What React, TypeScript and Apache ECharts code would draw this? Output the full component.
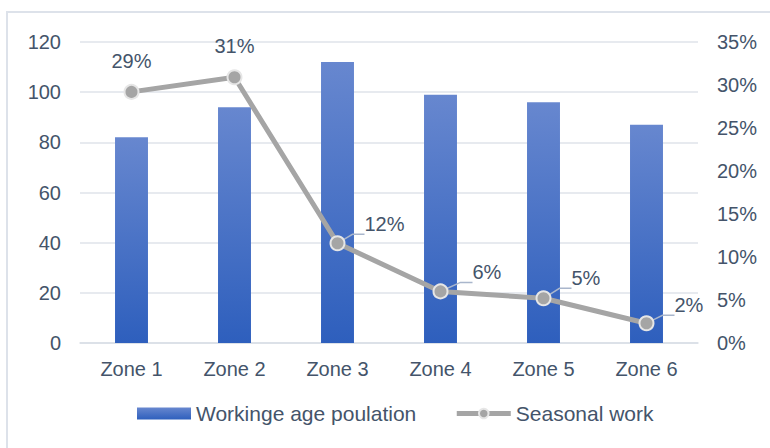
import React, { useEffect, useRef } from "react";
import * as echarts from "echarts";

const categories = ["Zone 1", "Zone 2", "Zone 3", "Zone 4", "Zone 5", "Zone 6"];
const populationValues = [82, 94, 112, 99, 96, 87];
const seasonalValues = [0.292, 0.309, 0.116, 0.06, 0.052, 0.023];
const seasonalLabels = ["29%", "31%", "12%", "6%", "5%", "2%"];
const leftTicks = { min: 0, max: 120, interval: 20 };
const rightTicks = { min: 0, max: 0.35, interval: 0.05 };
const seriesNames = ["Workinge age poulation", "Seasonal work"];

const TEXT = "#44546a";
const FONT = "'Liberation Sans', Arial, sans-serif";

export default function App() {
  const ref = useRef<HTMLDivElement>(null);
  useEffect(() => {
    if (!ref.current) return;
    const chart = echarts.init(ref.current, undefined, { renderer: "svg" });
    const labelOffsets: Record<number, [number, number]> = {
      2: [6, -19],
      3: [11, -19],
      4: [7, -20],
      5: [7, -18],
    };
    const lineData = seasonalValues.map((v, i) => {
      if (i < 2) {
        return {
          value: v,
          label: { show: true, position: "top", distance: 13, formatter: seasonalLabels[i] },
        };
      }
      return {
        value: v,
        label: {
          show: true,
          position: "right",
          offset: labelOffsets[i],
          padding: [0, 0, 0, 8],
          formatter: seasonalLabels[i],
        },
        labelLine: {
          show: true,
          length2: 12,
          smooth: false,
          lineStyle: { color: "#a9b6cc", width: 1.5 },
        },
      };
    });
    chart.setOption({
      animation: false,
      textStyle: { fontFamily: FONT },
      graphic: [
        {
          type: "rect",
          shape: { x: 7, y: 12, width: 800, height: 500 },
          style: { fill: "none", stroke: "#dde2ea", lineWidth: 2 },
          silent: true,
        },
      ],
      grid: { left: 80, right: 72, top: 42, bottom: 105, containLabel: false },
      legend: {
        left: 137,
        top: 403,
        padding: 0,
        itemWidth: 54,
        itemHeight: 12,
        itemGap: 38,
        lineStyle: { width: 5 },
        textStyle: { color: TEXT, fontSize: 21, fontFamily: FONT },
        data: [{ name: seriesNames[0], icon: "rect" }, { name: seriesNames[1] }],
      },
      xAxis: {
        type: "category",
        data: categories,
        axisTick: { show: false },
        axisLine: { lineStyle: { color: "#d9dee6", width: 1.5 } },
        axisLabel: { color: TEXT, fontSize: 20, margin: 16, fontFamily: FONT },
      },
      yAxis: [
        {
          type: "value",
          min: leftTicks.min,
          max: leftTicks.max,
          interval: leftTicks.interval,
          axisLine: { show: false },
          axisTick: { show: false },
          splitLine: { lineStyle: { color: "#dfe3ea", width: 1.5 } },
          axisLabel: { color: TEXT, fontSize: 20, margin: 19, fontFamily: FONT },
        },
        {
          type: "value",
          min: rightTicks.min,
          max: rightTicks.max,
          interval: rightTicks.interval,
          axisLine: { show: false },
          axisTick: { show: false },
          splitLine: { show: false },
          axisLabel: {
            color: TEXT,
            fontSize: 20,
            margin: 19,
            fontFamily: FONT,
            formatter: (v: number) => Math.round(v * 100) + "%",
          },
        },
      ],
      series: [
        {
          name: seriesNames[0],
          type: "bar",
          data: populationValues,
          barWidth: "32%",
          itemStyle: {
            color: new echarts.graphic.LinearGradient(0, 0, 0, 1, [
              { offset: 0, color: "#6787cf" },
              { offset: 1, color: "#2e5fbd" },
            ]),
          },
        },
        {
          name: seriesNames[1],
          type: "line",
          yAxisIndex: 1,
          data: lineData,
          symbol: "circle",
          symbolSize: 14,
          lineStyle: { color: "#a5a5a5", width: 5 },
          itemStyle: { color: "#a5a5a5", borderColor: "#e6e6e6", borderWidth: 2 },
          label: { color: TEXT, fontSize: 20, fontFamily: FONT },
          z: 3,
        },
      ],
    });
    return () => chart.dispose();
  }, []);
  return <div ref={ref} style={{ width: 770, height: 448, position: "absolute", left: 0, top: 0 }} />;
}
